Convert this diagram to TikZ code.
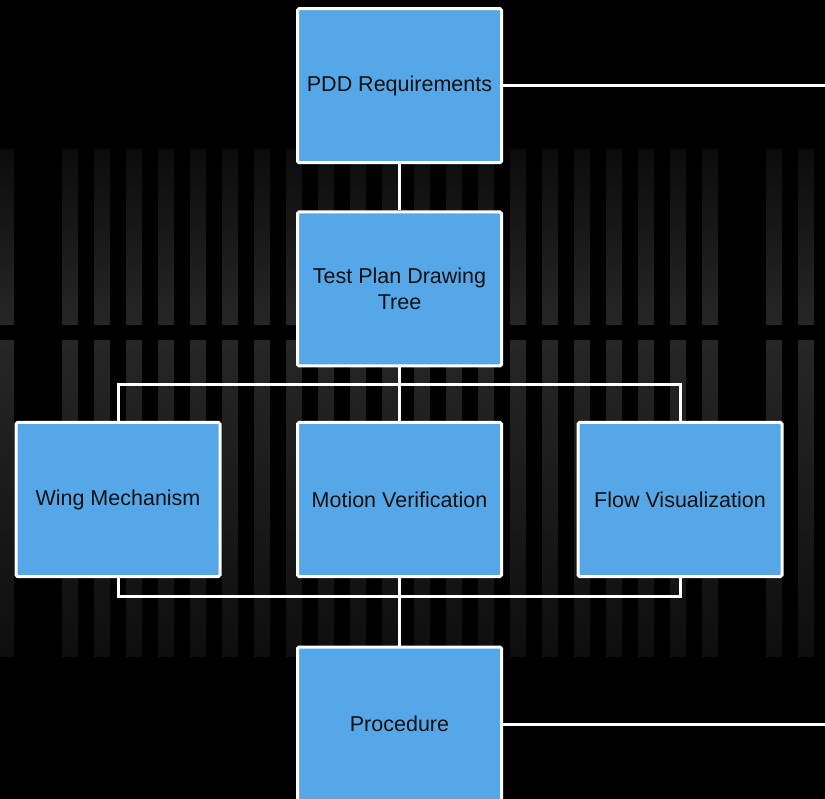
\documentclass[tikz,border=0pt]{standalone}
\usepackage{fontspec}
\setmainfont{Liberation Sans}
\definecolor{boxblue}{RGB}{86,167,232}
\definecolor{stripedark}{RGB}{12,12,12}
\definecolor{stripelight}{RGB}{38,38,38}
\definecolor{stripelow}{RGB}{14,14,14}
\definecolor{txt}{RGB}{17,17,17}
\begin{document}
\begin{tikzpicture}[x=1pt,y=-1pt,
  box/.style={draw=white,line width=3pt,fill=boxblue,minimum width=204pt,minimum height=154pt,
    inner sep=0pt,rounded corners=1.5pt,align=center,text=txt,font=\fontsize{21.5}{25.5}\selectfont},
  link/.style={draw=white,line width=3pt}]
\useasboundingbox (0,0) rectangle (825,799);
\clip (0,0) rectangle (825,799);
\fill[black] (0,0) rectangle (825,799);
% background stripes
\foreach \k in {-1,1,2,3,4,5,6,7,8,9,10,11,12,13,14,15,16,17,18,19,20,21,23,24}{
  \pgfmathsetmacro{\xa}{30+32*\k}
  \pgfmathsetmacro{\xb}{46+32*\k}
  \shade[top color=stripedark,bottom color=stripelight] (\xa,150) rectangle (\xb,325);
  \shade[top color=stripelight,bottom color=stripelow] (\xa,341) rectangle (\xb,656);
}
% boxes
\node[box] (pdd) at (399.5,85.7) {PDD Requirements};
\node[box] (tp) at (399.5,289) {Test Plan Drawing\\Tree};
\node[box] (wing) at (118,499.5) {Wing Mechanism};
\node[box] (mv) at (399.5,499.5) {Motion Verification};
\node[box] (flow) at (680,499.5) {Flow Visualization};
\node[box] (proc) at (399.5,724) {Procedure};
\coordinate (pddend) at (826,85.7);
\coordinate (procend) at (826,724);
% connectors
\path[link] (pdd.east) -- (pddend);
\path[link] (proc.east) -- (procend);
\path[link] (pdd.south) -- (tp.north);
\path[link] (tp.south) -- (mv.north);
\path[link] (wing.north) -- ++(0,-36) -| (flow.north);
\path[link] (wing.south) -- ++(0,18) -| (flow.south);
\path[link] (mv.south) -- (proc.north);
\end{tikzpicture}
\end{document}
